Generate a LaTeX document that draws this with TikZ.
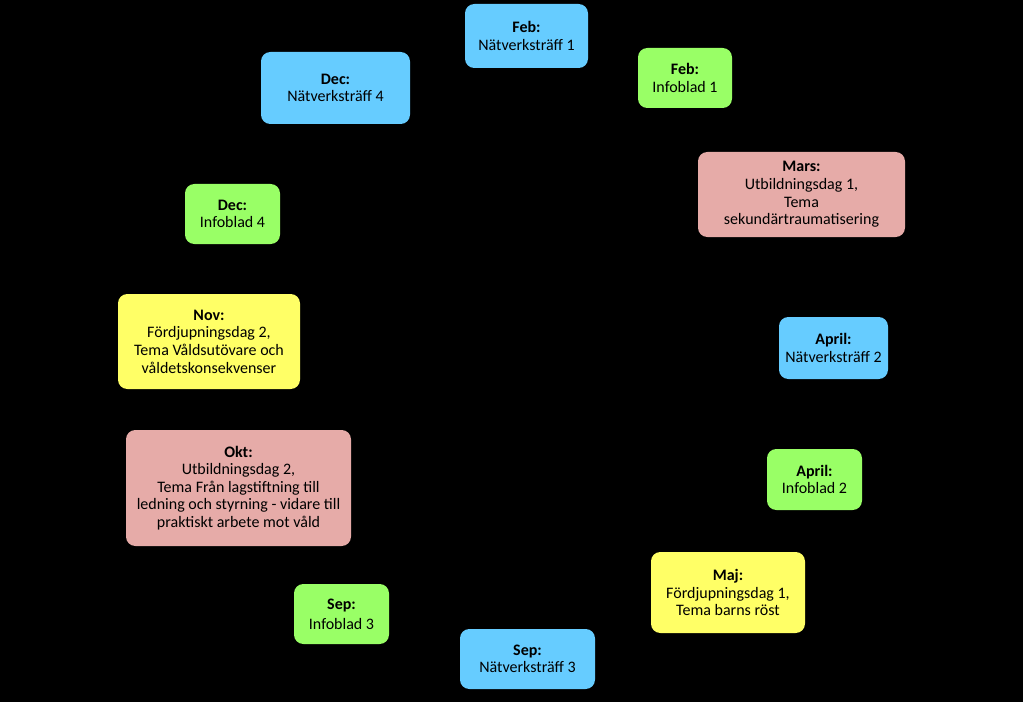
\documentclass[tikz,border=0pt]{standalone}
\usepackage{fontspec}
\setmainfont{Carlito}
\definecolor{natblue}{HTML}{66CCFF}
\definecolor{infogreen}{HTML}{99FF66}
\definecolor{utbpink}{HTML}{E6ABA8}
\definecolor{fordyellow}{HTML}{FFFF66}

\begin{document}
\begin{tikzpicture}[x=0.75pt, y=-0.75pt, font=\fontsize{12}{13.2}\selectfont,
    box/.style={rectangle, rounded corners=7pt, align=center, inner sep=2pt, text=black},
    natverk/.style={box, fill=natblue},
    infoblad/.style={box, fill=infogreen},
    utbildning/.style={box, fill=utbpink},
    fordjupning/.style={box, fill=fordyellow}]
        \fill[black] (0,0) rectangle (1023,702);

        \node[natverk, minimum width=92.25pt, minimum height=48pt] (febnat) at (526.5,36) {\textbf{Feb:}\\Nätverksträff 1};
        \node[infoblad, minimum width=70.5pt, minimum height=45pt] (febinfo) at (685,78) {\textbf{Feb:}\\Infoblad 1};
        \node[utbildning, minimum width=155.25pt, minimum height=63.75pt] (mars) at (801.5,194.5) {\textbf{Mars:}\\Utbildningsdag 1,\\Tema\\sekundärtraumatisering};
        \node[natverk, minimum width=81.75pt, minimum height=46.5pt] (aprnat) at (833.5,348) {\textbf{April:}\\Nätverksträff 2};
        \node[infoblad, minimum width=71.25pt, minimum height=45.75pt] (aprinfo) at (814.5,479.5) {\textbf{April:}\\Infoblad 2};
        \node[fordjupning, minimum width=115.5pt, minimum height=60.75pt] (maj) at (728,592.5) {\textbf{Maj:}\\Fördjupningsdag 1,\\Tema barns röst};
        \node[natverk, minimum width=101.25pt, minimum height=45pt] (sepnat) at (527.5,659) {\textbf{Sep:}\\Nätverksträff 3};
        \node[infoblad, minimum width=71.25pt, minimum height=45pt] (sepinfo) at (341.5,614) {\textbf{Sep:}\\[2pt]Infoblad 3};
        \node[utbildning, minimum width=168.75pt, minimum height=87pt] (okt) at (238.5,488) {\textbf{Okt:}\\Utbildningsdag 2,\\Tema Från lagstiftning till\\ledning och styrning - vidare till\\praktiskt arbete mot våld};
        \node[fordjupning, minimum width=136.5pt, minimum height=71.25pt] (nov) at (209,341.5) {\textbf{Nov:}\\Fördjupningsdag 2,\\Tema Våldsutövare och\\våldetskonsekvenser};
        \node[infoblad, minimum width=71.25pt, minimum height=45pt] (decinfo) at (232.5,214) {\textbf{Dec:}\\Infoblad 4};
        \node[natverk, minimum width=111.75pt, minimum height=54pt] (decnat) at (335.5,88) {\textbf{Dec:}\\Nätverksträff 4};
    \end{tikzpicture}
\end{document}
